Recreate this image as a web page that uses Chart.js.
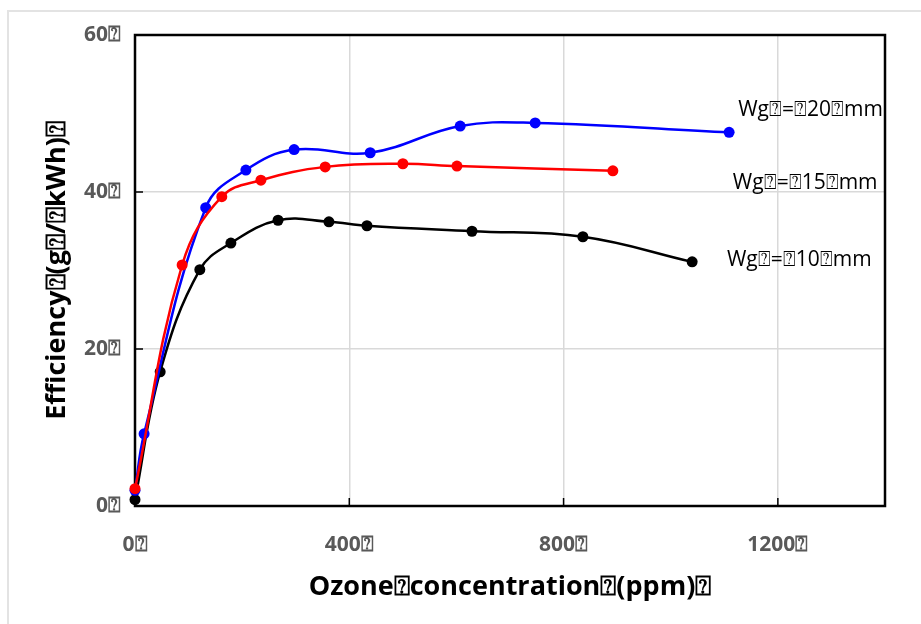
<!DOCTYPE html>
<html>
<head>
<meta charset="utf-8">
<script src="https://cdn.jsdelivr.net/npm/chart.js@4.4.1/dist/chart.umd.min.js"></script>
<style>
  html, body { margin: 0; padding: 0; background: #fff; }
  #wrap { position: relative; width: 921px; height: 624px; overflow: hidden; }
  #frame { position: absolute; left: 7px; top: 10px; width: 1000px; height: 1000px;
           border-left: 2px solid #e3e3e3; border-top: 2px solid #e3e3e3; }
  #chart { position: absolute; left: 0; top: 0; }
</style>
</head>
<body>
<div id="wrap">
  <div id="frame"></div>
  <canvas id="chart" width="921" height="624"></canvas>
</div>
<script>
// the source text has glyph-less characters, shown as boxed question marks
const BOX = '\u2370';

// data (ozone ppm, efficiency g/kWh)
const seriesNames = [
  'Wg' + BOX + '=' + BOX + '20' + BOX + 'mm',
  'Wg' + BOX + '=' + BOX + '15' + BOX + 'mm',
  'Wg' + BOX + '=' + BOX + '10' + BOX + 'mm'
];
const ozone20 = [0, 17, 132, 207, 297, 439, 607, 747, 1109];
const eff20   = [2.0, 9.2, 38.0, 42.8, 45.4, 45.0, 48.4, 48.8, 47.6];
const ozone15 = [0, 88, 162, 235, 355, 500, 601, 892];
const eff15   = [2.2, 30.7, 39.4, 41.5, 43.2, 43.6, 43.3, 42.7];
const ozone10 = [0, 47, 121, 179, 267, 362, 433, 629, 836, 1040];
const eff10   = [0.8, 17.1, 30.1, 33.5, 36.4, 36.2, 35.7, 35.0, 34.3, 31.1];

const xTicks = [0, 400, 800, 1200];
const yTicks = [0, 20, 40, 60];
const xTitle = 'Ozone' + BOX + 'concentration' + BOX + '(ppm)' + BOX;
const yTitle = 'Efficiency' + BOX + '(g' + BOX + '/' + BOX + 'kWh)' + BOX;

// where each series name sits, in data units
const labelAt = [[1126, 50.4], [1116, 41.1], [1105, 31.3]];

const colors = ['#0000ff', '#ff0000', '#000000'];
const drawOrder = [1, 0, 2]; // red on top, black underneath

const toPoints = (xs, ys) => xs.map((x, i) => ({ x: x, y: ys[i] }));
const series = [toPoints(ozone20, eff20), toPoints(ozone15, eff15), toPoints(ozone10, eff10)];

Chart.defaults.font.family = "'Open Sans', sans-serif";

const framePlugin = {
  id: 'frame',
  beforeDatasetsDraw(chart) {
    const { ctx, chartArea: a, scales } = chart;
    ctx.save();
    ctx.strokeStyle = '#000';
    ctx.lineWidth = 1.5;
    // inner tick marks
    ctx.beginPath();
    yTicks.forEach(v => {
      const y = scales.y.getPixelForValue(v);
      ctx.moveTo(a.left, y); ctx.lineTo(a.left + 8, y);
    });
    xTicks.forEach(v => {
      const x = scales.x.getPixelForValue(v);
      ctx.moveTo(x, a.bottom); ctx.lineTo(x, a.bottom - 8);
    });
    ctx.stroke();
    ctx.lineWidth = 2.5;
    ctx.strokeRect(a.left, a.top, a.right - a.left, a.bottom - a.top);
    ctx.restore();
  },
  afterDatasetsDraw(chart) {
    const { ctx, scales } = chart;
    ctx.save();
    ctx.fillStyle = '#000';
    ctx.font = "21px 'Open Sans', sans-serif";
    ctx.textAlign = 'left';
    ctx.textBaseline = 'middle';
    seriesNames.forEach((name, i) => {
      ctx.fillText(name, scales.x.getPixelForValue(labelAt[i][0]), scales.y.getPixelForValue(labelAt[i][1]));
    });
    ctx.restore();
  }
};

new Chart(document.getElementById('chart'), {
  type: 'scatter',
  data: {
    datasets: series.map((pts, i) => ({
      label: seriesNames[i],
      data: pts,
      showLine: true,
      tension: 0.4,
      borderColor: colors[i],
      backgroundColor: colors[i],
      borderWidth: 2.5,
      pointRadius: 5.5,
      pointBorderWidth: 0,
      order: drawOrder[i],
      clip: false
    }))
  },
  options: {
    responsive: false,
    animation: false,
    layout: { padding: { left: 0, right: 36, top: 35, bottom: 0 } },
    plugins: { legend: { display: false }, tooltip: { enabled: false } },
    scales: {
      x: {
        type: 'linear',
        min: 0,
        max: 1400,
        afterBuildTicks: s => { s.ticks = xTicks.map(v => ({ value: v })); },
        afterFit: s => { s.height = 118; },
        border: { display: false },
        grid: { color: '#d9d9d9', lineWidth: 1.5, drawTicks: false },
        ticks: {
          color: '#595959',
          padding: 26,
          maxRotation: 0,
          font: { size: 21, weight: 'bold' },
          callback: v => v + BOX
        },
        title: {
          display: true,
          text: xTitle,
          color: '#000',
          font: { size: 27, weight: 'bold' },
          padding: { top: 0, bottom: 20 }
        }
      },
      y: {
        type: 'linear',
        min: 0,
        max: 60,
        afterBuildTicks: s => { s.ticks = yTicks.map(v => ({ value: v })); },
        afterFit: s => { s.width = 135; },
        border: { display: false },
        grid: { color: '#d9d9d9', lineWidth: 1.5, drawTicks: false },
        ticks: {
          color: '#595959',
          padding: 14,
          font: { size: 21, weight: 'bold' },
          callback: v => v + BOX
        },
        title: {
          display: true,
          text: yTitle,
          color: '#000',
          font: { size: 27, weight: 'bold' },
          padding: { top: 41, bottom: 0 }
        }
      }
    }
  },
  plugins: [framePlugin]
});
</script>
</body>
</html>
